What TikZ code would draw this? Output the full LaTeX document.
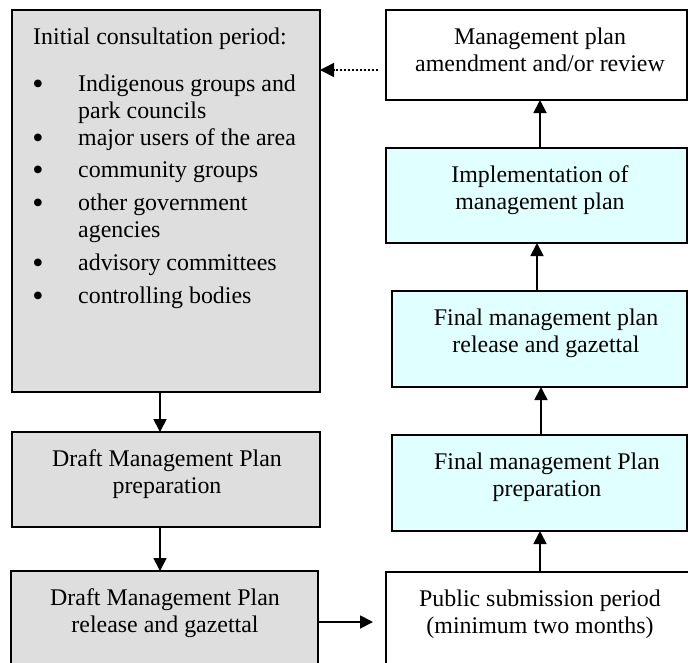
\documentclass[tikz,border=0pt]{standalone}
\usepackage{fontspec}
\setmainfont{Liberation Serif}
\usetikzlibrary{arrows.meta}
\definecolor{boxgray}{RGB}{222,222,222}
\definecolor{boxcyan}{RGB}{224,255,255}
\begin{document}
\begin{tikzpicture}[x=1pt,y=-1pt,
 box/.style={draw=black, line width=2pt, rectangle, inner sep=0pt, outer sep=0pt, anchor=north west},
 graybox/.style={box, fill=boxgray},
 cyanbox/.style={box, fill=boxcyan},
 whitebox/.style={box, fill=white},
 txt/.style={inner sep=0pt, anchor=base, font=\fontsize{23.9}{27}\selectfont},
 ltxt/.style={txt, anchor=base west},
 bul/.style={inner sep=0pt, anchor=base, font=\fontsize{32}{27}\selectfont},
 arr/.style={line width=1.8pt, -{Triangle[length=13pt,width=13pt]}},
 dotarr/.style={line width=1.6pt, dash pattern=on 2pt off 2pt, -{Triangle[length=14pt,width=14pt]}}
]
\useasboundingbox (0,0) rectangle (688,662);
\clip (0,0) rectangle (688,662);
% boxes
\node[graybox, minimum width=308pt, minimum height=382pt] (init) at (12,10) {};
\node[graybox, minimum width=308pt, minimum height=95pt] (dprep) at (12,432) {};
\node[graybox, minimum width=307pt, minimum height=110pt] (drel) at (11,571) {};
\node[whitebox, minimum width=301pt, minimum height=90pt] (mgmt) at (386,10) {};
\node[cyanbox, minimum width=301pt, minimum height=95pt] (impl) at (386,148) {};
\node[cyanbox, minimum width=295pt, minimum height=96pt] (frel) at (392,291) {};
\node[cyanbox, minimum width=295pt, minimum height=96pt] (fprep) at (392,435) {};
\node[whitebox, minimum width=320pt, minimum height=110pt] (pub) at (386,572) {};
% left list text
\node[ltxt] (head) at (33,44) {Initial consultation period:};
\node[bul] (b1) at (38,94) {•};
\node[ltxt] (i1a) at (78,91) {Indigenous groups and};
\node[ltxt] (i1b) at (78,118) {park councils};
\node[bul] (b2) at (38,148) {•};
\node[ltxt] (i2) at (78,145) {major users of the area};
\node[bul] (b3) at (38,180) {•};
\node[ltxt] (i3) at (78,177) {community groups};
\node[bul] (b4) at (38,213) {•};
\node[ltxt] (i4a) at (78,210) {other government};
\node[ltxt] (i4b) at (78,237) {agencies};
\node[bul] (b5) at (38,273) {•};
\node[ltxt] (i5) at (78,270) {advisory committees};
\node[bul] (b6) at (38,306) {•};
\node[ltxt] (i6) at (78,303) {controlling bodies};
% other texts
\node[txt] (tdp1) at (167,466) {Draft Management Plan};
\node[txt] (tdp2) at (167,493) {preparation};
\node[txt] (tdr1) at (165,605) {Draft Management Plan};
\node[txt] (tdr2) at (165,632) {release and gazettal};
\node[txt] (tm1) at (540,44) {Management plan};
\node[txt] (tm2) at (540,71) {amendment and/or review};
\node[txt] (ti1) at (540,182) {Implementation of};
\node[txt] (ti2) at (540,209) {management plan};
\node[txt] (tfr1) at (546,325) {Final management plan};
\node[txt] (tfr2) at (546,352) {release and gazettal};
\node[txt] (tfp1) at (547,469) {Final management Plan};
\node[txt] (tfp2) at (547,496) {preparation};
\node[txt] (tp1) at (540,606) {Public submission period};
\node[txt] (tp2) at (540,633) {(minimum two months)};
% helper coordinates
\coordinate (c160) at (160,0);
\coordinate (c537) at (537,0);
\coordinate (c540) at (540,0);
\coordinate (c541) at (541,0);
\coordinate (c622) at (0,622);
\coordinate (c70) at (0,70);
% arrows
\draw[arr] (init.south -| c160) -- (dprep.north -| c160);
\draw[arr] (dprep.south -| c160) -- (drel.north -| c160);
\draw[arr, shorten >=13pt] (drel.east |- c622) -- (pub.west |- c622);
\draw[arr] (pub.north -| c540) -- (fprep.south -| c540);
\draw[arr] (fprep.north -| c541) -- (frel.south -| c541);
\draw[arr] (frel.north -| c537) -- (impl.south -| c537);
\draw[arr] (impl.north -| c540) -- (mgmt.south -| c540);
\draw[dotarr, shorten <=8pt] (mgmt.west |- c70) -- (init.east |- c70);
\end{tikzpicture}
\end{document}
